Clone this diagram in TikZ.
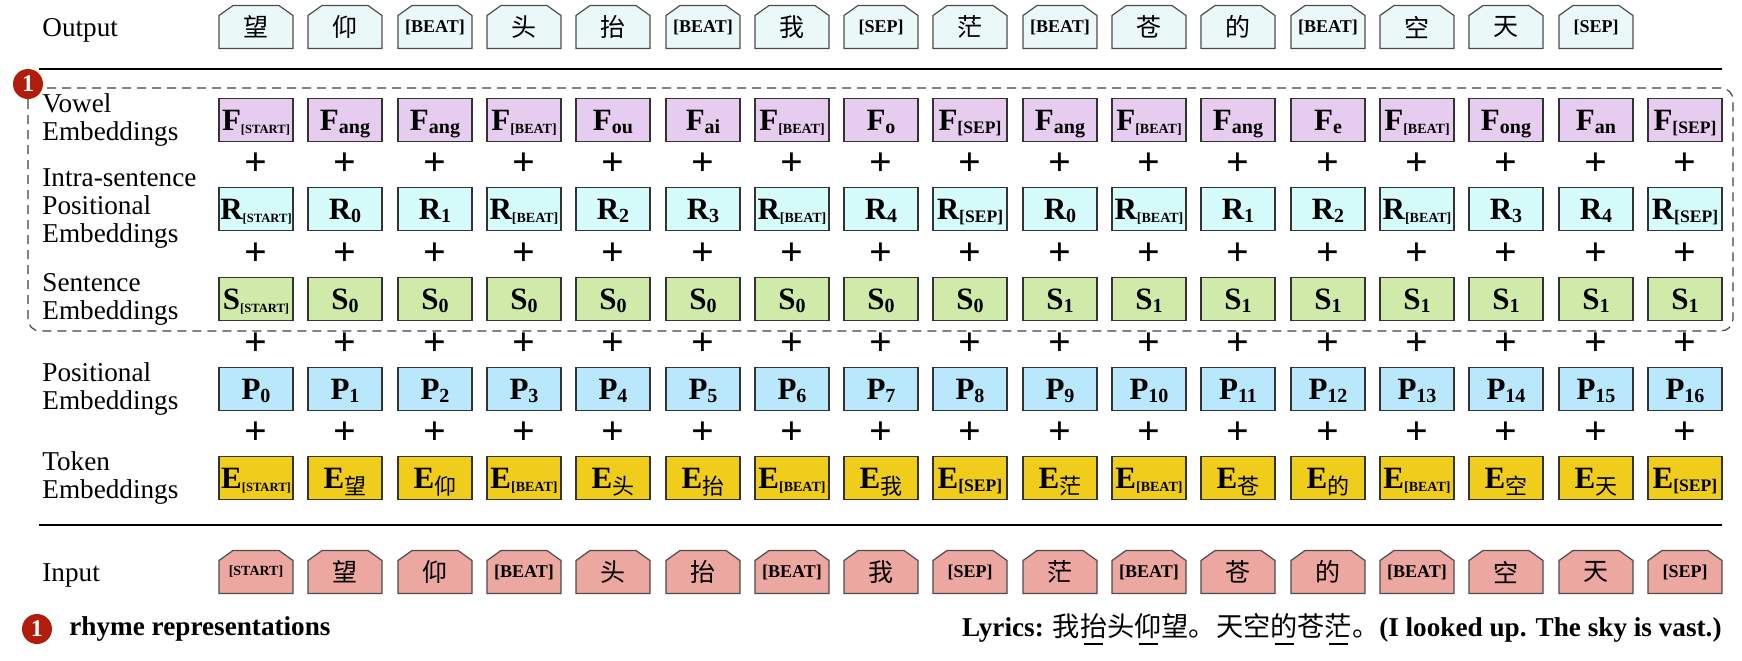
\documentclass[tikz,border=0pt]{standalone}
\usepackage{fontspec}
\setmainfont{Liberation Serif}
\newfontfamily\cjk{Noto Sans CJK SC}

\definecolor{outfill}{HTML}{EBF8F8}
\definecolor{infill}{HTML}{EBA7A0}
\definecolor{vowelfill}{HTML}{E6CCEF}
\definecolor{intrafill}{HTML}{D5FBFB}
\definecolor{sentfill}{HTML}{D0EBA9}
\definecolor{posfill}{HTML}{B9E7FB}
\definecolor{tokfill}{HTML}{F0CD1B}
\definecolor{badgered}{HTML}{B01D0B}

% box texts
\newcommand{\zh}[1]{{\cjk\mdseries #1}}
\newcommand{\emb}[2]{{\fontsize{15.5}{15.5}\selectfont\bfseries #1\raisebox{-1.5pt}{\fontsize{10}{10}\selectfont #2}}}
\newcommand{\sST}{{\fontsize{6.3}{7}\selectfont [START]}}
\newcommand{\sBT}{{\fontsize{7}{8}\selectfont [BEAT]}}
\newcommand{\sSP}{{\fontsize{8.8}{9}\selectfont [SEP]}}
\newcommand{\ezh}[1]{\emb{E}{\raisebox{-1.5pt}{\fontsize{11}{11}\selectfont\cjk\mdseries #1}}}
\newcommand{\otk}[1]{{\fontsize{12.5}{13}\selectfont\cjk #1}}
\newcommand{\obk}[1]{{\fontsize{9}{10}\selectfont\bfseries #1}}
\newcommand{\ul}[1]{\makebox[0pt][l]{\hspace{0.15em}\rule[-0.32em]{0.7em}{0.9pt}}\zh{#1}}

\tikzset{
  pics/chbox/.style={code={
    \filldraw[draw=black!70, line width=0.6pt, fill=#1]
      (-37,21.5) -- (-37,-11.5) -- (-23,-21.5) -- (23,-21.5) -- (37,-11.5) -- (37,21.5) -- cycle;}},
  toktext/.style={inner sep=0pt},
  embbox/.style={draw=black!80, line width=0.6pt, minimum width=37pt, minimum height=21.5pt,
    inner sep=0pt, text height=11.5pt, text depth=1.5pt},
  vowelbox/.style={embbox, fill=vowelfill},
  intrabox/.style={embbox, fill=intrafill},
  sentbox/.style={embbox, fill=sentfill},
  posbox/.style={embbox, fill=posfill},
  tokenbox/.style={embbox, fill=tokfill},
  plussign/.style={inner sep=0pt, font=\fontsize{20}{20}\selectfont\bfseries},
  rowlabel/.style={anchor=west, align=left, inner sep=0pt, font=\fontsize{13.6}{14}\selectfont},
  badge/.style={circle, fill=badgered, text=white, minimum size=15pt, inner sep=0pt,
    font=\fontsize{12}{12}\selectfont\bfseries},
  dashregion/.style={draw=black!75, line width=0.6pt, dash pattern=on 4.5pt off 3pt, rounded corners=6pt}
}

\begin{document}
\begin{tikzpicture}[x=0.5pt, y=-0.5pt]
    \useasboundingbox (0,0) rectangle (1742,660);
    % Row labels
    \node[rowlabel] (lout) at (42,30) {Output};
    \node[rowlabel] (lvow) at (42,120) {Vowel\\Embeddings};
    \node[rowlabel] (lintra) at (42,209) {Intra-sentence\\Positional\\Embeddings};
    \node[rowlabel] (lsent) at (42,299) {Sentence\\Embeddings};
    \node[rowlabel] (lpos) at (42,389) {Positional\\Embeddings};
    \node[rowlabel] (ltok) at (42,478) {Token\\Embeddings};
    \node[rowlabel] (lin) at (42,575) {Input};
    % Output tokens
    \pic at (256,27) {chbox=outfill}; \node[toktext] (o1) at (256,27) {\otk{望}};
    \pic at (345,27) {chbox=outfill}; \node[toktext] (o2) at (345,27) {\otk{仰}};
    \pic at (435,27) {chbox=outfill}; \node[toktext] (o3) at (435,27) {\obk{[BEAT]}};
    \pic at (524,27) {chbox=outfill}; \node[toktext] (o4) at (524,27) {\otk{头}};
    \pic at (613,27) {chbox=outfill}; \node[toktext] (o5) at (613,27) {\otk{抬}};
    \pic at (703,27) {chbox=outfill}; \node[toktext] (o6) at (703,27) {\obk{[BEAT]}};
    \pic at (792,27) {chbox=outfill}; \node[toktext] (o7) at (792,27) {\otk{我}};
    \pic at (881,27) {chbox=outfill}; \node[toktext] (o8) at (881,27) {\obk{[SEP]}};
    \pic at (970,27) {chbox=outfill}; \node[toktext] (o9) at (970,27) {\otk{茫}};
    \pic at (1060,27) {chbox=outfill}; \node[toktext] (o10) at (1060,27) {\obk{[BEAT]}};
    \pic at (1149,27) {chbox=outfill}; \node[toktext] (o11) at (1149,27) {\otk{苍}};
    \pic at (1238,27) {chbox=outfill}; \node[toktext] (o12) at (1238,27) {\otk{的}};
    \pic at (1328,27) {chbox=outfill}; \node[toktext] (o13) at (1328,27) {\obk{[BEAT]}};
    \pic at (1417,27) {chbox=outfill}; \node[toktext] (o14) at (1417,27) {\otk{空}};
    \pic at (1506,27) {chbox=outfill}; \node[toktext] (o15) at (1506,27) {\otk{天}};
    \pic at (1596,27) {chbox=outfill}; \node[toktext] (o16) at (1596,27) {\obk{[SEP]}};
    % Separators
    \draw[line width=0.75pt] (39,69) -- (1722,69);
    \draw[line width=0.75pt] (39,525) -- (1722,525);
    % Rhyme region
    \draw[dashregion] (28,88) rectangle (1733,331);
    \node[badge] (b1) at (28,84) {1};
    % Vowel embeddings
    \node[vowelbox] (f1) at (256,120) {\emb{F}{\sST}}; \node[vowelbox] (f2) at (345,120) {\emb{F}{ang}}; \node[vowelbox] (f3) at (435,120) {\emb{F}{ang}};
    \node[vowelbox] (f4) at (524,120) {\emb{F}{\sBT}}; \node[vowelbox] (f5) at (613,120) {\emb{F}{ou}}; \node[vowelbox] (f6) at (703,120) {\emb{F}{ai}};
    \node[vowelbox] (f7) at (792,120) {\emb{F}{\sBT}}; \node[vowelbox] (f8) at (881,120) {\emb{F}{o}}; \node[vowelbox] (f9) at (970,120) {\emb{F}{\sSP}};
    \node[vowelbox] (f10) at (1060,120) {\emb{F}{ang}}; \node[vowelbox] (f11) at (1149,120) {\emb{F}{\sBT}}; \node[vowelbox] (f12) at (1238,120) {\emb{F}{ang}};
    \node[vowelbox] (f13) at (1328,120) {\emb{F}{e}}; \node[vowelbox] (f14) at (1417,120) {\emb{F}{\sBT}}; \node[vowelbox] (f15) at (1506,120) {\emb{F}{ong}};
    \node[vowelbox] (f16) at (1596,120) {\emb{F}{an}}; \node[vowelbox] (f17) at (1685,120) {\emb{F}{\sSP}};
    % Plus F/R
    \node[plussign] (pfr1) at (256,164) {+}; \node[plussign] (pfr2) at (345,164) {+}; \node[plussign] (pfr3) at (435,164) {+}; \node[plussign] (pfr4) at (524,164) {+};
    \node[plussign] (pfr5) at (613,164) {+}; \node[plussign] (pfr6) at (703,164) {+}; \node[plussign] (pfr7) at (792,164) {+}; \node[plussign] (pfr8) at (881,164) {+};
    \node[plussign] (pfr9) at (970,164) {+}; \node[plussign] (pfr10) at (1060,164) {+}; \node[plussign] (pfr11) at (1149,164) {+}; \node[plussign] (pfr12) at (1238,164) {+};
    \node[plussign] (pfr13) at (1328,164) {+}; \node[plussign] (pfr14) at (1417,164) {+}; \node[plussign] (pfr15) at (1506,164) {+}; \node[plussign] (pfr16) at (1596,164) {+};
    \node[plussign] (pfr17) at (1685,164) {+};
    % Intra-sentence positional embeddings
    \node[intrabox] (r1) at (256,209) {\emb{R}{\sST}}; \node[intrabox] (r2) at (345,209) {\emb{R}{0}}; \node[intrabox] (r3) at (435,209) {\emb{R}{1}};
    \node[intrabox] (r4) at (524,209) {\emb{R}{\sBT}}; \node[intrabox] (r5) at (613,209) {\emb{R}{2}}; \node[intrabox] (r6) at (703,209) {\emb{R}{3}};
    \node[intrabox] (r7) at (792,209) {\emb{R}{\sBT}}; \node[intrabox] (r8) at (881,209) {\emb{R}{4}}; \node[intrabox] (r9) at (970,209) {\emb{R}{\sSP}};
    \node[intrabox] (r10) at (1060,209) {\emb{R}{0}}; \node[intrabox] (r11) at (1149,209) {\emb{R}{\sBT}}; \node[intrabox] (r12) at (1238,209) {\emb{R}{1}};
    \node[intrabox] (r13) at (1328,209) {\emb{R}{2}}; \node[intrabox] (r14) at (1417,209) {\emb{R}{\sBT}}; \node[intrabox] (r15) at (1506,209) {\emb{R}{3}};
    \node[intrabox] (r16) at (1596,209) {\emb{R}{4}}; \node[intrabox] (r17) at (1685,209) {\emb{R}{\sSP}};
    % Plus R/S
    \node[plussign] (prs1) at (256,254) {+}; \node[plussign] (prs2) at (345,254) {+}; \node[plussign] (prs3) at (435,254) {+}; \node[plussign] (prs4) at (524,254) {+};
    \node[plussign] (prs5) at (613,254) {+}; \node[plussign] (prs6) at (703,254) {+}; \node[plussign] (prs7) at (792,254) {+}; \node[plussign] (prs8) at (881,254) {+};
    \node[plussign] (prs9) at (970,254) {+}; \node[plussign] (prs10) at (1060,254) {+}; \node[plussign] (prs11) at (1149,254) {+}; \node[plussign] (prs12) at (1238,254) {+};
    \node[plussign] (prs13) at (1328,254) {+}; \node[plussign] (prs14) at (1417,254) {+}; \node[plussign] (prs15) at (1506,254) {+}; \node[plussign] (prs16) at (1596,254) {+};
    \node[plussign] (prs17) at (1685,254) {+};
    % Sentence embeddings
    \node[sentbox] (s1) at (256,299) {\emb{S}{\sST}}; \node[sentbox] (s2) at (345,299) {\emb{S}{0}}; \node[sentbox] (s3) at (435,299) {\emb{S}{0}};
    \node[sentbox] (s4) at (524,299) {\emb{S}{0}}; \node[sentbox] (s5) at (613,299) {\emb{S}{0}}; \node[sentbox] (s6) at (703,299) {\emb{S}{0}};
    \node[sentbox] (s7) at (792,299) {\emb{S}{0}}; \node[sentbox] (s8) at (881,299) {\emb{S}{0}}; \node[sentbox] (s9) at (970,299) {\emb{S}{0}};
    \node[sentbox] (s10) at (1060,299) {\emb{S}{1}}; \node[sentbox] (s11) at (1149,299) {\emb{S}{1}}; \node[sentbox] (s12) at (1238,299) {\emb{S}{1}};
    \node[sentbox] (s13) at (1328,299) {\emb{S}{1}}; \node[sentbox] (s14) at (1417,299) {\emb{S}{1}}; \node[sentbox] (s15) at (1506,299) {\emb{S}{1}};
    \node[sentbox] (s16) at (1596,299) {\emb{S}{1}}; \node[sentbox] (s17) at (1685,299) {\emb{S}{1}};
    % Plus S/P
    \node[plussign] (psp1) at (256,344) {+}; \node[plussign] (psp2) at (345,344) {+}; \node[plussign] (psp3) at (435,344) {+}; \node[plussign] (psp4) at (524,344) {+};
    \node[plussign] (psp5) at (613,344) {+}; \node[plussign] (psp6) at (703,344) {+}; \node[plussign] (psp7) at (792,344) {+}; \node[plussign] (psp8) at (881,344) {+};
    \node[plussign] (psp9) at (970,344) {+}; \node[plussign] (psp10) at (1060,344) {+}; \node[plussign] (psp11) at (1149,344) {+}; \node[plussign] (psp12) at (1238,344) {+};
    \node[plussign] (psp13) at (1328,344) {+}; \node[plussign] (psp14) at (1417,344) {+}; \node[plussign] (psp15) at (1506,344) {+}; \node[plussign] (psp16) at (1596,344) {+};
    \node[plussign] (psp17) at (1685,344) {+};
    % Positional embeddings
    \node[posbox] (p1) at (256,389) {\emb{P}{0}}; \node[posbox] (p2) at (345,389) {\emb{P}{1}}; \node[posbox] (p3) at (435,389) {\emb{P}{2}};
    \node[posbox] (p4) at (524,389) {\emb{P}{3}}; \node[posbox] (p5) at (613,389) {\emb{P}{4}}; \node[posbox] (p6) at (703,389) {\emb{P}{5}};
    \node[posbox] (p7) at (792,389) {\emb{P}{6}}; \node[posbox] (p8) at (881,389) {\emb{P}{7}}; \node[posbox] (p9) at (970,389) {\emb{P}{8}};
    \node[posbox] (p10) at (1060,389) {\emb{P}{9}}; \node[posbox] (p11) at (1149,389) {\emb{P}{10}}; \node[posbox] (p12) at (1238,389) {\emb{P}{11}};
    \node[posbox] (p13) at (1328,389) {\emb{P}{12}}; \node[posbox] (p14) at (1417,389) {\emb{P}{13}}; \node[posbox] (p15) at (1506,389) {\emb{P}{14}};
    \node[posbox] (p16) at (1596,389) {\emb{P}{15}}; \node[posbox] (p17) at (1685,389) {\emb{P}{16}};
    % Plus P/E
    \node[plussign] (ppe1) at (256,433) {+}; \node[plussign] (ppe2) at (345,433) {+}; \node[plussign] (ppe3) at (435,433) {+}; \node[plussign] (ppe4) at (524,433) {+};
    \node[plussign] (ppe5) at (613,433) {+}; \node[plussign] (ppe6) at (703,433) {+}; \node[plussign] (ppe7) at (792,433) {+}; \node[plussign] (ppe8) at (881,433) {+};
    \node[plussign] (ppe9) at (970,433) {+}; \node[plussign] (ppe10) at (1060,433) {+}; \node[plussign] (ppe11) at (1149,433) {+}; \node[plussign] (ppe12) at (1238,433) {+};
    \node[plussign] (ppe13) at (1328,433) {+}; \node[plussign] (ppe14) at (1417,433) {+}; \node[plussign] (ppe15) at (1506,433) {+}; \node[plussign] (ppe16) at (1596,433) {+};
    \node[plussign] (ppe17) at (1685,433) {+};
    % Token embeddings
    \node[tokenbox] (e1) at (256,478) {\emb{E}{\sST}}; \node[tokenbox] (e2) at (345,478) {\ezh{望}}; \node[tokenbox] (e3) at (435,478) {\ezh{仰}};
    \node[tokenbox] (e4) at (524,478) {\emb{E}{\sBT}}; \node[tokenbox] (e5) at (613,478) {\ezh{头}}; \node[tokenbox] (e6) at (703,478) {\ezh{抬}};
    \node[tokenbox] (e7) at (792,478) {\emb{E}{\sBT}}; \node[tokenbox] (e8) at (881,478) {\ezh{我}}; \node[tokenbox] (e9) at (970,478) {\emb{E}{\sSP}};
    \node[tokenbox] (e10) at (1060,478) {\ezh{茫}}; \node[tokenbox] (e11) at (1149,478) {\emb{E}{\sBT}}; \node[tokenbox] (e12) at (1238,478) {\ezh{苍}};
    \node[tokenbox] (e13) at (1328,478) {\ezh{的}}; \node[tokenbox] (e14) at (1417,478) {\emb{E}{\sBT}}; \node[tokenbox] (e15) at (1506,478) {\ezh{空}};
    \node[tokenbox] (e16) at (1596,478) {\ezh{天}}; \node[tokenbox] (e17) at (1685,478) {\emb{E}{\sSP}};
    % Input tokens
    \pic at (256,572) {chbox=infill}; \node[toktext] (i1) at (256,572) {\obk{\fontsize{7}{8}\selectfont[START]}};
    \pic at (345,572) {chbox=infill}; \node[toktext] (i2) at (345,572) {\otk{望}};
    \pic at (435,572) {chbox=infill}; \node[toktext] (i3) at (435,572) {\otk{仰}};
    \pic at (524,572) {chbox=infill}; \node[toktext] (i4) at (524,572) {\obk{[BEAT]}};
    \pic at (613,572) {chbox=infill}; \node[toktext] (i5) at (613,572) {\otk{头}};
    \pic at (703,572) {chbox=infill}; \node[toktext] (i6) at (703,572) {\otk{抬}};
    \pic at (792,572) {chbox=infill}; \node[toktext] (i7) at (792,572) {\obk{[BEAT]}};
    \pic at (881,572) {chbox=infill}; \node[toktext] (i8) at (881,572) {\otk{我}};
    \pic at (970,572) {chbox=infill}; \node[toktext] (i9) at (970,572) {\obk{[SEP]}};
    \pic at (1060,572) {chbox=infill}; \node[toktext] (i10) at (1060,572) {\otk{茫}};
    \pic at (1149,572) {chbox=infill}; \node[toktext] (i11) at (1149,572) {\obk{[BEAT]}};
    \pic at (1238,572) {chbox=infill}; \node[toktext] (i12) at (1238,572) {\otk{苍}};
    \pic at (1328,572) {chbox=infill}; \node[toktext] (i13) at (1328,572) {\otk{的}};
    \pic at (1417,572) {chbox=infill}; \node[toktext] (i14) at (1417,572) {\obk{[BEAT]}};
    \pic at (1506,572) {chbox=infill}; \node[toktext] (i15) at (1506,572) {\otk{空}};
    \pic at (1596,572) {chbox=infill}; \node[toktext] (i16) at (1596,572) {\otk{天}};
    \pic at (1685,572) {chbox=infill}; \node[toktext] (i17) at (1685,572) {\obk{[SEP]}};
    % Legend and lyrics
    \node[badge] (b2) at (37,629) {1};
    \node[anchor=west, inner sep=0pt, font=\fontsize{13.6}{14}\selectfont\bfseries] (legend) at (69,629) {rhyme representations};
    \node[anchor=east, inner sep=0pt, font=\fontsize{13.6}{14}\selectfont\bfseries] (lyrics) at (1722,629)
      {Lyrics: \zh{我}\ul{抬}\zh{头}\ul{仰}\zh{望。天空}\ul{的}\zh{苍}\ul{茫}\zh{。}(I looked up. The sky is vast.)};
\end{tikzpicture}
\end{document}
